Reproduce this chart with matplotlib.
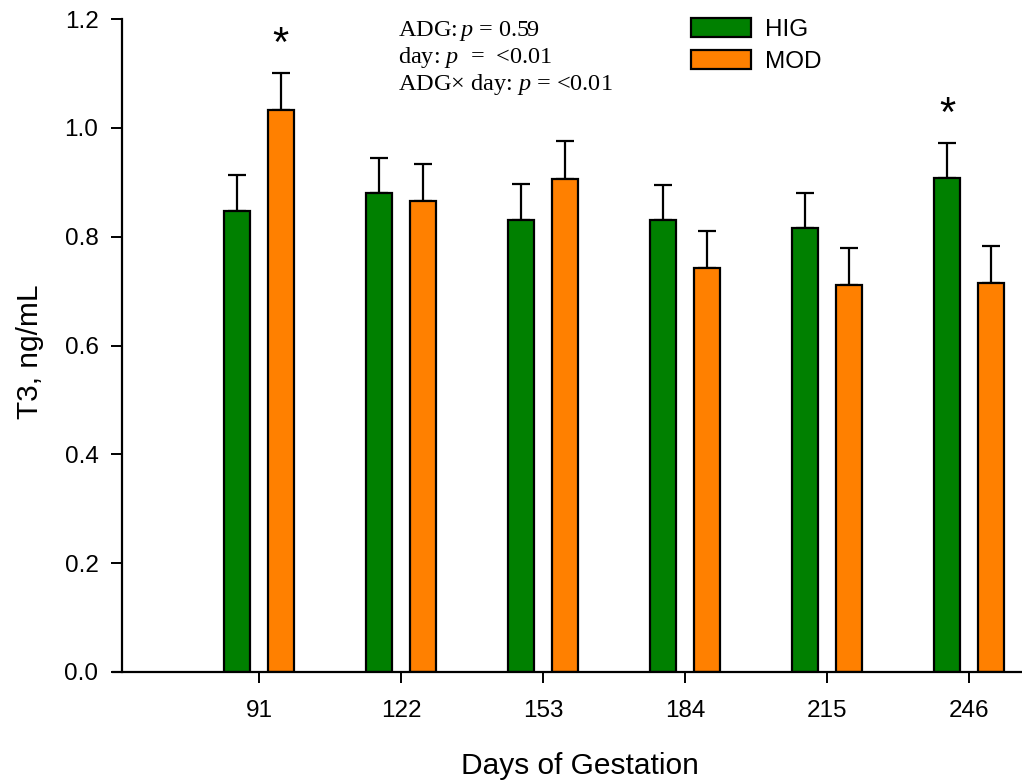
import numpy as np
import matplotlib
matplotlib.use("Agg")
import matplotlib.pyplot as plt

# T3 concentration by day of gestation
days = [91, 122, 153, 184, 215, 246]
hig_mean = [0.848, 0.880, 0.831, 0.831, 0.816, 0.907]
hig_top = [0.913, 0.944, 0.896, 0.895, 0.880, 0.972]
mod_mean = [1.033, 0.865, 0.906, 0.743, 0.712, 0.714]
mod_top = [1.100, 0.933, 0.975, 0.811, 0.780, 0.782]
# significant days: (group, day index)
stars = [("MOD", 0), ("HIG", 5)]

stats_lines = [r"ADG:$\,\mathit{p}$ = 0.59",
               r"day: $\mathit{p}$  =  <0.01",
               "ADG\u00d7 day: $\\mathit{p}$ = <0.01"]

green = "#008000"
orange = "#FF8000"

plt.rcParams['font.family'] = ['Liberation Sans', 'DejaVu Sans']
plt.rcParams['mathtext.fontset'] = 'custom'
plt.rcParams['mathtext.rm'] = 'Liberation Serif'
plt.rcParams['mathtext.it'] = 'Liberation Serif:italic'

W, H = 1022, 782
fig = plt.figure(figsize=(W / 100, H / 100), dpi=100)
ax = fig.add_axes([113 / W, 1 - 672 / H, 1 - 113 / W, (672 - 19) / H])

x = np.array(days, dtype=float)
off = 4.7
bw = 5.68
hig_err = np.array(hig_top) - np.array(hig_mean)
mod_err = np.array(mod_top) - np.array(mod_mean)

for xs, m, e, c, lab in [(x - off, hig_mean, hig_err, green, "HIG"),
                         (x + off, mod_mean, mod_err, orange, "MOD")]:
    ax.errorbar(xs, m, yerr=[np.zeros_like(e), e], fmt="none", ecolor="black",
                elinewidth=1.6, capsize=6.5, capthick=1.6, zorder=1)
    ax.bar(xs, m, width=bw, color=c, edgecolor="black", linewidth=1.6,
           label=lab, zorder=2)

for grp, i in stars:
    if grp == "HIG":
        xs, top = x[i] - off, hig_top[i]
    else:
        xs, top = x[i] + off, mod_top[i]
    ax.text(xs, top + 0.052, "*", ha="center", va="center", fontsize=30)

ax.set_xlim(59.13, 257.57)
ax.set_ylim(0, 1.2)
ax.set_xticks(days)
ax.set_yticks(np.arange(0, 1.21, 0.2))
ax.set_yticklabels([f"{v:.1f}" for v in np.arange(0, 1.21, 0.2)])

for s in ["top", "right"]:
    ax.spines[s].set_visible(False)
ax.spines["left"].set_position(("data", 61.1))
ax.spines["left"].set_linewidth(1.6)
ax.spines["bottom"].set_linewidth(1.6)
ax.tick_params(axis="both", direction="out", length=8, width=1.4,
               labelsize=17.5, colors="black")
ax.tick_params(axis="y", pad=9)
ax.tick_params(axis="x", pad=12)

ax.set_xlabel("Days of Gestation", fontsize=21.5)
ax.set_ylabel("T3, ng/mL", fontsize=21.5)
ax.xaxis.set_label_coords((580 - 113) / 909, -0.122)
ax.yaxis.set_label_coords((44 - 113) / 909, 0.49)

for k, line in enumerate(stats_lines):
    ax.text((398 - 113) / 909, [0.9744, 0.933, 0.891][k], line,
            transform=ax.transAxes, ha="left", va="baseline",
            fontsize=17.5, family="Liberation Serif")

ax.legend(loc="upper left", bbox_to_anchor=(691 / W, 1 - 18 / H),
          bbox_transform=fig.transFigure, frameon=False, fontsize=17.5,
          borderpad=0, borderaxespad=0, handlelength=2.45, handleheight=0.85,
          handletextpad=0.6, labelspacing=0.35)

fig.savefig("out.png", dpi=100)
